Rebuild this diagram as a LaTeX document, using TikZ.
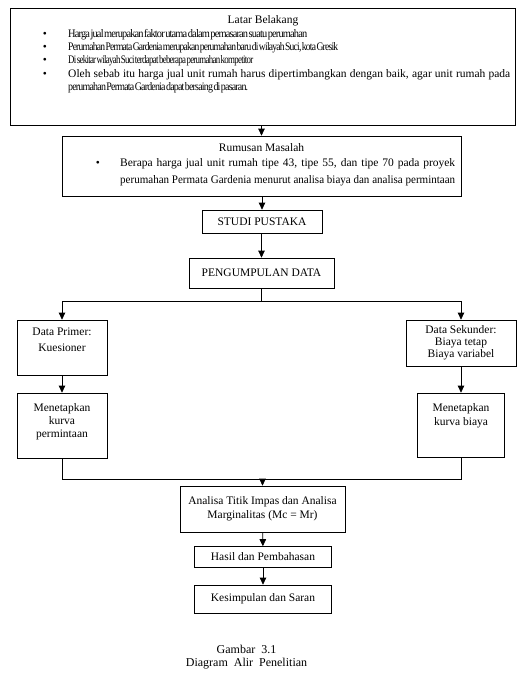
\documentclass[tikz,border=0pt]{standalone}
\usepackage{fontspec}
\setmainfont{Liberation Serif}
\newfontfamily\tightserif[LetterSpace=-8, WordSpace=0.3]{Liberation Serif}
\usetikzlibrary{arrows.meta, positioning}

% squeeze a line of text to a given width, keeping its height
\newcommand{\fitw}[2]{\resizebox{#1}{\height}{#2}}

\begin{document}
\begin{tikzpicture}[x=1pt, y=-1pt,
            box/.style={draw, line width=0.7pt, fill=white, inner sep=1pt,
                        align=center, font=\fontsize{11.5}{13}\selectfont},
            arr/.style={-{Triangle[width=6.5pt, length=7pt]}, line width=0.7pt},
            ln/.style={line width=0.7pt},
            lab/.style={inner sep=0pt, align=center, font=\fontsize{11.5}{13}\selectfont},
            tight/.style={lab, anchor=west, font=\fontsize{11.5}{13}\tightserif}
        ]
        \useasboundingbox (0,0) rectangle (517,691);

        % Latar belakang
        \node[box, minimum width=505pt, minimum height=117pt] (latar) at (262.5,66.5) {};
        \node[lab] (latart) at (263,21) {Latar Belakang};
        \node[lab] (bul1) at (45,35) {\textbullet};
        \node[lab] (bul2) at (45,48) {\textbullet};
        \node[lab] (bul3) at (45,61) {\textbullet};
        \node[lab] (bul4) at (45,75) {\textbullet};
        \node[tight] (lb1) at (68,35)
            {\fitw{239pt}{Harga jual merupakan faktor utama dalam pemasaran suatu perumahan}};
        \node[tight] (lb2) at (68,48)
            {\fitw{270pt}{Perumahan Permata Gardenia merupakan perumahan baru di wilayah Suci, kota Gresik}};
        \node[tight] (lb3) at (68,61)
            {\fitw{185pt}{Di sekitar wilayah Suci terdapat beberapa perumahan kompetitor}};
        \node[lab, anchor=west] (lb4) at (68,75)
            {\makebox[442pt][s]{Oleh sebab itu harga jual unit rumah harus dipertimbangkan dengan baik, agar unit rumah pada}};
        \node[tight] (lb5) at (68,88)
            {\fitw{180pt}{perumahan Permata Gardenia dapat bersaing di pasaran.}};

        % Rumusan masalah
        \node[box, minimum width=399pt, minimum height=60pt] (rumusan) at (261.5,166) {};
        \node[lab] (rumusant) at (261.5,148) {Rumusan Masalah};
        \node[lab] (bul5) at (98,164) {\textbullet};
        \node[lab, anchor=west] (rm1) at (120,164)
            {\makebox[335pt][s]{Berapa harga jual unit rumah tipe 43, tipe 55, dan tipe 70 pada proyek}};
        \node[lab, anchor=west] (rm2) at (120,181)
            {\fitw{335pt}{perumahan Permata Gardenia menurut analisa biaya dan analisa permintaan}};

        % Tahapan
        \node[box, minimum width=120pt, minimum height=23pt] (studi) at (262,221.5) {STUDI PUSTAKA};
        \node[box, minimum width=145pt, minimum height=30pt] (kumpul) at (261.5,273) {PENGUMPULAN DATA};

        % Data
        \node[box, minimum width=90pt, minimum height=55pt] (primer) at (62,347.5) {};
        \node[lab, below=8pt of primer.north] (primert) {Data Primer:\\[3pt]Kuesioner};
        \node[box, minimum width=110pt, minimum height=46pt] (sekunder) at (461,343)
            {Data Sekunder:\\[-1pt]Biaya tetap\\[-1pt]Biaya variabel};
        \node[box, minimum width=90pt, minimum height=65pt] (permintaan) at (62,425.5) {};
        \node[lab, below=11pt of permintaan.north] (permintaant) {Menetapkan\\kurva\\permintaan};
        \node[box, minimum width=87pt, minimum height=64pt] (biaya) at (461,425) {};
        \node[lab, below=11pt of biaya.north] (biayat) {Menetapkan\\[1pt]kurva biaya};

        % Analisa dan hasil
        \node[box, minimum width=165pt, minimum height=46pt] (analisa) at (262.5,509)
            {Analisa Titik Impas dan Analisa\\[1pt]Marginalitas (Mc = Mr)};
        \node[box, minimum width=137pt, minimum height=21pt] (hasil) at (263,557) {Hasil dan Pembahasan};
        \node[box, minimum width=137pt, minimum height=28pt] (simpul) at (263,599) {Kesimpulan dan Saran};

        % Caption
        \node[fill=white, minimum width=153pt, minimum height=68pt, align=center,
              font=\fontsize{12}{13.5}\selectfont] (gambar) at (246.5,657)
            {Gambar\ \ 3.1\\Diagram\ \ Alir\ \ Penelitian};

        % Arrows
        \draw[arr] (rumusan.north |- latar.south) -- (rumusan.north);
        \draw[arr] (studi.north |- rumusan.south) -- (studi.north);
        \draw[arr] (studi.south -| kumpul.north) -- (kumpul.north);

        \coordinate (split) at (261.5,301);
        \draw[ln] (kumpul.south) -- (split);
        \draw[ln] (split -| primer.north) -- (split -| sekunder.north);
        \draw[arr] (split -| primer.north) -- (primer.north);
        \draw[arr] (split -| sekunder.north) -- (sekunder.north);
        \draw[arr] (primer) -- (permintaan);
        \draw[arr] (sekunder) -- (biaya);

        \coordinate (join) at (262.5,479);
        \draw[ln] (permintaan.south) |- (join -| biaya.south) -- (biaya.south);
        \draw[arr] (join) -- (analisa.north);
        \draw[arr] (analisa) -- (hasil);
        \draw[arr] (hasil) -- (simpul);

\end{tikzpicture}
\end{document}
